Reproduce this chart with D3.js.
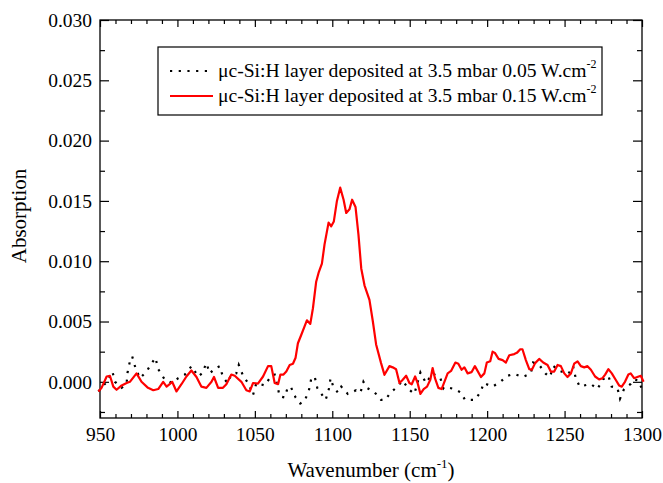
<!DOCTYPE html>
<html>
<head>
<meta charset="utf-8">
<script src="https://cdn.jsdelivr.net/npm/d3@7"></script>
<style>
  body { margin: 0; background: #fff; }
  svg text { font-family: "Liberation Serif", "Times New Roman", Times, "DejaVu Serif", serif !important; fill: #000; }
</style>
</head>
<body>
<div id="chart"></div>
<script>
// 0.15 W.cm-2 layer (red line)
let redWave = [949, 951, 954.3, 956.4, 958.6, 960.7, 964, 967.2, 969.3, 973.6, 976.8, 981, 984.4, 987.6,
  990.8, 993, 995, 996.6, 999.4, 1002.6, 1005.8, 1009, 1012.3, 1015.5, 1018.7, 1022, 1023.6, 1026.3,
  1029.4, 1031.6, 1034.8, 1037, 1041.3, 1044.5, 1046.7, 1048.8, 1052, 1055.3, 1058.5, 1060.6, 1062.8,
  1065, 1066.5, 1068.5, 1070.3, 1072.5, 1074.6, 1076.3, 1077.8, 1080, 1082.1, 1083.6, 1085.8, 1087.5,
  1089.6, 1091.3, 1093.3, 1095, 1097.6, 1099.3, 1101, 1103, 1105.1, 1107.3, 1109, 1111.1, 1112.8, 1115,
  1116.9, 1118.7, 1120.8, 1124, 1126.2, 1128.3, 1131.5, 1133.7, 1136.9, 1139, 1141.2, 1143.4, 1145.5,
  1147.7, 1149.8, 1151.3, 1153.5, 1155.1, 1156.9, 1159, 1161.2, 1163.3, 1164.8, 1166.3, 1168.5, 1170.6,
  1172.4, 1174.5, 1176.7, 1179.5, 1181.4, 1183.5, 1185.3, 1187.4, 1189.9, 1192.1, 1196, 1198.2, 1199.8,
  1202, 1203.5, 1205, 1207.4, 1210, 1212.1, 1214.3, 1217.5, 1219.2, 1221.4, 1222.8, 1225, 1227.2, 1228.9,
  1231, 1233.6, 1236.2, 1239, 1241.1, 1243.3, 1245.5, 1247.6, 1249.8, 1251.9, 1254.1, 1256.2, 1258.4,
  1260.5, 1262.7, 1264.8, 1267, 1269.7, 1272.3, 1274.5, 1276.2, 1278.3, 1280.5, 1283, 1285.2, 1286.9,
  1289, 1291.2, 1292.7, 1294.9, 1297, 1299.2, 1301];
let redAbs = [-0.0008, -0.0005, 0.00044, 0.0005, -0.0004, -0.00066, -0.0003, -0.0001, 0.0, 0.0007, 0.0,
  -0.0005, -0.0007, -0.0006, 0.0, -0.0004, -0.0002, 0.0, -0.0008, -0.0002, 0.00044, 0.00094, 0.0004,
  -0.0004, -0.0005, 0.0, 0.0004, -0.0005, -0.0005, -0.0002, 0.0006, 0.0005, 0.0, -0.0007, -0.0008,
  -0.0001, -0.00015, 0.00044, 0.0013, 0.0013, -0.0001, -0.0002, 0.0006, 0.0006, 0.00085, 0.0014, 0.0015,
  0.002, 0.0032, 0.0039, 0.0046, 0.0051, 0.0048, 0.0061, 0.0083, 0.0091, 0.0098, 0.0114, 0.0132, 0.0129,
  0.0133, 0.015, 0.0161, 0.0151, 0.014, 0.0143, 0.0151, 0.0145, 0.0122, 0.0094, 0.008, 0.0068, 0.005,
  0.0031, 0.00155, 0.00058, 0.0013, 0.0012, 0.00105, -0.0001, 0.00017, 0.0005, -0.0001, -0.0002, 0.00044,
  -0.0001, -0.001, -0.0006, -0.0004, 0.00017, 0.00114, 0.0003, -0.0005, -0.0006, 0.0, 0.0007, 0.0009,
  0.0016, 0.0015, 0.001, 0.0012, 0.0007, 0.0008, 0.0013, 0.0004, 0.0007, 0.0016, 0.0017, 0.0025, 0.0024,
  0.0019, 0.0018, 0.0016, 0.0022, 0.0023, 0.0024, 0.0027, 0.0027, 0.0018, 0.00105, 0.001, 0.00155, 0.0019,
  0.0016, 0.0014, 0.00085, 0.00085, 0.0014, 0.0013, 0.0007, 0.0004, 0.0007, 0.0015, 0.0017, 0.0013,
  0.0012, 0.0013, 0.001, 0.00044, 0.0002, 0.0003, 0.0006, 0.00105, 0.0007, 0.00017, -0.0003, -0.0004,
  0.0, 0.0006, 0.0007, 0.0003, 0.0004, 0.0005, 0.0];

// 0.05 W.cm-2 layer (black dotted)
let blackWave = [949, 954.3, 958, 959.7, 964, 967.2, 967.8, 969.3, 970.8, 973, 975.8, 980, 983.7, 985.8,
  987.6, 991.9, 996.6, 1000.5, 1004.8, 1009.1, 1013.4, 1015.9, 1018.7, 1020.9, 1024.1, 1027.3, 1029.4,
  1032.3, 1034.8, 1038, 1039.6, 1042.4, 1046, 1048.8, 1051, 1056.4, 1060.6, 1062.8, 1064.5, 1066, 1069.2,
  1071.4, 1073.5, 1076.3, 1079.3, 1082.1, 1084.9, 1086.4, 1088.6, 1090.3, 1093.5, 1095.7, 1097.8, 1098.9,
  1100.4, 1103.6, 1105.8, 1110, 1115.4, 1118.2, 1120.1, 1122.3, 1127.2, 1131.5, 1134.3, 1137.6, 1141.2,
  1145.5, 1149.2, 1153, 1156.9, 1160.5, 1164.8, 1169.8, 1171.9, 1175.6, 1179.2, 1183.1, 1185.7, 1192.1,
  1196, 1197.7, 1203.5, 1208.5, 1213.2, 1217.5, 1222.9, 1228.2, 1229.7, 1233.6, 1237.9, 1240.5, 1242.8,
  1246.9, 1252.5, 1255.5, 1257.2, 1259.8, 1266.9, 1271.2, 1274.8, 1278.3, 1280.4, 1284.1, 1285.8, 1288.4,
  1292.7, 1294.9, 1297.7, 1300];
let blackAbs = [-0.0008, 0.0, 0.00085, 0.0, -0.0005, -0.0001, 0.00077, 0.0017, 0.0021, 0.0011, 0.0003,
  0.00085, 0.0016, 0.002, 0.00105, 0.00017, -0.0001, 0.0003, 0.0006, 0.0013, 0.00044, 0.0007, 0.00155,
  0.0007, 0.0011, 0.0013, 0.0004, -0.0001, 0.0006, 0.0007, 0.0014, 0.0005, -0.00017, -0.0011, -0.0001,
  -0.0003, 0.0005, 0.0006, -0.0003, -0.0012, -0.0013, -0.0004, -0.0005, -0.0013, -0.0018, -0.0016,
  -0.0007, 0.00025, 0.00044, -0.0005, -0.0011, -0.0015, -0.0006, 0.0003, -0.0003, -0.0009, -0.0004,
  -0.001, -0.0007, -0.0009, 0.0, -0.0005, -0.00085, -0.0015, -0.0015, -0.0009, -0.0005, 0.0001, -0.0006,
  -0.001, 0.00077, -0.0001, 0.0007, 0.0003, -0.0006, -0.0005, -0.0006, -0.0009, -0.0015, -0.0015,
  -0.0008, -0.0001, -0.0004, 0.0, 0.0005, 0.00066, 0.0004, 0.0007, 0.0016, 0.0014, 0.00066, 0.0004,
  0.0013, 0.0009, 0.00066, 0.0013, 0.0003, -0.0004, -0.00017, -0.0006, 0.0002, 0.0005, -0.0004, -0.0005,
  -0.0014, -0.0006, -0.00017, 0.0002, 0.0001, -0.0006];

let xTicks = [950, 1000, 1050, 1100, 1150, 1200, 1250, 1300];
let yTicks = [0.000, 0.005, 0.010, 0.015, 0.020, 0.025, 0.030];
let legendLabels = ["\u03bcc-Si:H layer deposited at 3.5 mbar 0.05 W.cm", "\u03bcc-Si:H layer deposited at 3.5 mbar 0.15 W.cm"];

let config = {
  width: 663,
  height: 483,
  left: 100,
  right: 642,
  top: 20,
  bottom: 418,
  red: "#ff0000",
  font: "'Liberation Serif', 'Times New Roman', Times, serif"
};

let svg = d3.select("#chart").append("svg")
  .attr("width", config.width)
  .attr("height", config.height)
  .style("font-family", config.font);

let x = d3.scaleLinear().domain([950, 1300]).range([config.left, config.right]);
let y = d3.scaleLinear().domain([-0.003, 0.030]).range([config.bottom, config.top]);

let xMinor = d3.range(950, 1301, 10).filter(d => d % 50 !== 0);
let yMinor = d3.range(-0.0025, 0.0301, 0.005);

function styleAxis(g) {
  g.attr("font-family", null);
  g.select(".domain").remove();
  g.selectAll("line").attr("stroke", "#000").attr("stroke-width", 1.2);
  g.selectAll("text").style("font-size", "19.5px").style("font-family", config.font);
}

// bottom
svg.append("g").attr("transform", `translate(0,${config.bottom})`)
  .call(d3.axisBottom(x).tickValues(xTicks).tickSize(-7).tickPadding(9).tickFormat(d3.format("d")))
  .call(styleAxis);
svg.append("g").attr("transform", `translate(0,${config.bottom})`)
  .call(d3.axisBottom(x).tickValues(xMinor).tickSize(-4).tickFormat(""))
  .call(styleAxis);
// top
svg.append("g").attr("transform", `translate(0,${config.top})`)
  .call(d3.axisTop(x).tickValues(xTicks).tickSize(-7).tickFormat(""))
  .call(styleAxis);
svg.append("g").attr("transform", `translate(0,${config.top})`)
  .call(d3.axisTop(x).tickValues(xMinor).tickSize(-4).tickFormat(""))
  .call(styleAxis);
// left
svg.append("g").attr("transform", `translate(${config.left},0)`)
  .call(d3.axisLeft(y).tickValues(yTicks).tickSize(-9).tickPadding(8).tickFormat(d3.format(".3f")))
  .call(styleAxis);
svg.append("g").attr("transform", `translate(${config.left},0)`)
  .call(d3.axisLeft(y).tickValues(yMinor).tickSize(-5).tickFormat(""))
  .call(styleAxis);
// right
svg.append("g").attr("transform", `translate(${config.right},0)`)
  .call(d3.axisRight(y).tickValues(yTicks).tickSize(-9).tickFormat(""))
  .call(styleAxis);
svg.append("g").attr("transform", `translate(${config.right},0)`)
  .call(d3.axisRight(y).tickValues(yMinor).tickSize(-5).tickFormat(""))
  .call(styleAxis);

svg.append("rect")
  .attr("x", config.left).attr("y", config.top)
  .attr("width", config.right - config.left)
  .attr("height", config.bottom - config.top)
  .attr("fill", "none").attr("stroke", "#000").attr("stroke-width", 1.3);

let line = d3.line().x(d => x(d[0])).y(d => y(d[1]));

svg.append("path")
  .datum(blackWave.map((w, i) => [w, blackAbs[i]]))
  .attr("d", line)
  .attr("fill", "none")
  .attr("stroke", "#000")
  .attr("stroke-width", 2.2)
  .attr("stroke-dasharray", "2.2,6.5");

svg.append("path")
  .datum(redWave.map((w, i) => [w, redAbs[i]]))
  .attr("d", line)
  .attr("fill", "none")
  .attr("stroke", config.red)
  .attr("stroke-width", 2.2)
  .attr("stroke-linejoin", "round");

// axis titles
let xt = svg.append("text")
  .attr("x", (config.left + config.right) / 2)
  .attr("y", 477)
  .attr("text-anchor", "middle")
  .style("font-size", "21px");
xt.append("tspan").text("Wavenumber (cm");
xt.append("tspan").style("font-size", "13px").attr("dy", -9).text("-1");
xt.append("tspan").attr("dy", 9).text(")");

svg.append("text")
  .attr("transform", `translate(26,${(config.top + config.bottom) / 2 - 3}) rotate(-90)`)
  .attr("text-anchor", "middle")
  .style("font-size", "21px")
  .text("Absorption");

// legend
let legend = svg.append("g");
legend.append("rect")
  .attr("x", 158).attr("y", 47)
  .attr("width", 444).attr("height", 68)
  .attr("fill", "#fff").attr("stroke", "#000").attr("stroke-width", 1.2);

let legendRows = [
  { label: legendLabels[0], y: 71, dash: "2.2,6.5", color: "#000" },
  { label: legendLabels[1], y: 96, dash: null, color: config.red }
];

legendRows.forEach(r => {
  legend.append("line")
    .attr("x1", 170).attr("x2", 213)
    .attr("y1", r.y).attr("y2", r.y)
    .attr("stroke", r.color)
    .attr("stroke-width", 2.2)
    .attr("stroke-dasharray", r.dash);
  let t = legend.append("text")
    .attr("x", 218).attr("y", r.y + 6)
    .style("font-size", "19.6px");
  t.append("tspan").text(r.label);
  t.append("tspan").style("font-size", "12px").attr("dy", -9).text("-2");
});
</script>
</body>
</html>
